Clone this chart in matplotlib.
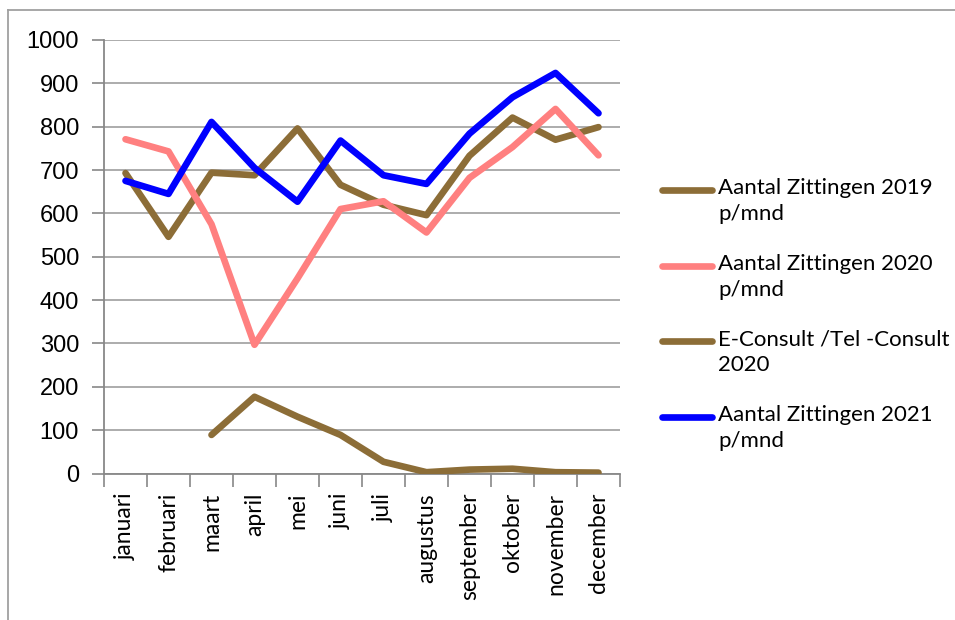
import matplotlib
matplotlib.use("Agg")
import matplotlib.pyplot as plt
import numpy as np
from matplotlib.lines import Line2D

months = ["januari", "februari", "maart", "april", "mei", "juni", "juli",
          "augustus", "september", "oktober", "november", "december"]
zit_2019 = [693, 546, 694, 688, 796, 666, 620, 596, 733, 821, 770, 799]
zit_2020 = [771, 743, 575, 297, 450, 610, 628, 556, 682, 753, 841, 734]
econsult_2020 = [np.nan, np.nan, 89, 177, 131, 89, 27, 3, 9, 11, 3, 2]
zit_2021 = [675, 645, 811, 705, 627, 768, 688, 668, 784, 868, 924, 831]

labels = ["Aantal Zittingen 2019\np/mnd", "Aantal Zittingen 2020\np/mnd",
          "E-Consult /Tel -Consult\n2020", "Aantal Zittingen 2021\np/mnd"]
colors = ["#8C6D37", "#FF8080", "#8C6D37", "#0000FF"]
series = [zit_2019, zit_2020, econsult_2020, zit_2021]
yticks = [0, 100, 200, 300, 400, 500, 600, 700, 800, 900, 1000]

W, H = 955, 620
fig = plt.figure(figsize=(W / 100, H / 100), dpi=100)
ax = fig.add_axes([104 / W, 1 - 473.5 / H, 516 / W, 433.5 / H])

x = np.arange(len(months))
for vals, col in zip(series, colors):
    ax.plot(x, vals, color=col, lw=4.8, solid_capstyle="round",
            solid_joinstyle="round", zorder=3)

ax.set_xlim(-0.5, len(months) - 0.5)
ax.set_ylim(0, 1000)
ax.set_yticks(yticks)
ax.set_yticklabels([str(v) for v in yticks], fontsize=17, family="Liberation Sans")
ax.yaxis.grid(True, color="#A6A6A6", lw=1.3, zorder=0)
ax.tick_params(axis="y", length=9, width=1.2, color="#888888", pad=9)

ax.set_xticks(x)
ax.set_xticklabels(months, rotation=90, fontsize=16.5, family="Lato")
ax.tick_params(axis="x", which="major", length=0, pad=14)
ax.set_xticks(np.arange(-0.5, len(months)), minor=True)
ax.tick_params(axis="x", which="minor", length=9, width=1.2, color="#888888")

for s in ["top", "right"]:
    ax.spines[s].set_visible(False)
for s in ["left", "bottom"]:
    ax.spines[s].set_color("#888888")
    ax.spines[s].set_linewidth(1.3)

# legend drawn manually
leg_y = [190, 266, 341, 417]
for lab, col, yy in zip(labels, colors, leg_y):
    fy = 1 - yy / H
    fig.add_artist(Line2D([662 / W, 712 / W], [fy, fy], color=col, lw=4.8,
                          solid_capstyle="round", transform=fig.transFigure))
    fig.text(718 / W, fy + 12 / H, lab, fontsize=16, family="Lato", va="top",
             ha="left", linespacing=1.35)

# outer frame (top and left edges)
fig.add_artist(Line2D([8 / W, 1], [1 - 10 / H, 1 - 10 / H], color="#A0A0A0", lw=1.3,
                      transform=fig.transFigure))
fig.add_artist(Line2D([8 / W, 8 / W], [0, 1 - 10 / H], color="#A0A0A0", lw=1.3,
                      transform=fig.transFigure))

fig.savefig("out.png", dpi=100)
